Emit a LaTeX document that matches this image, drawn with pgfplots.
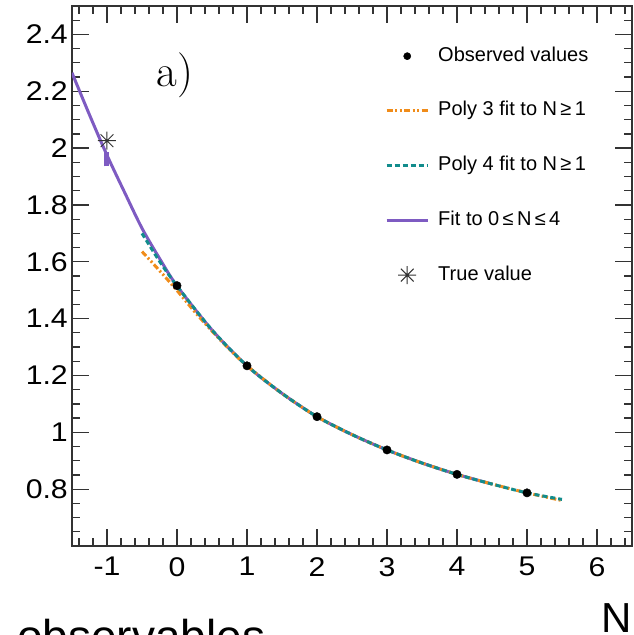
\documentclass[border=0pt]{standalone}
\usepackage{fontspec}
\usepackage{pgfplots}
\pgfplotsset{compat=1.18}
\newfontfamily\arial{Liberation Sans}
\newfontfamily\tickfont[FakeStretch=1.12]{Liberation Sans}
\definecolor{cpurple}{HTML}{7E5BC2}
\definecolor{corange}{HTML}{F08C1A}
\definecolor{cteal}{HTML}{128C8C}
\definecolor{caxis}{HTML}{333333}
\pgfdeclareplotmark{rootstar}{%
  \pgfpathmoveto{\pgfqpoint{0pt}{\pgfplotmarksize}}\pgfpathlineto{\pgfqpoint{0pt}{-\pgfplotmarksize}}%
  \pgfpathmoveto{\pgfqpoint{\pgfplotmarksize}{0pt}}\pgfpathlineto{\pgfqpoint{-\pgfplotmarksize}{0pt}}%
  \pgfpathmoveto{\pgfqpoint{0.707\pgfplotmarksize}{0.707\pgfplotmarksize}}\pgfpathlineto{\pgfqpoint{-0.707\pgfplotmarksize}{-0.707\pgfplotmarksize}}%
  \pgfpathmoveto{\pgfqpoint{-0.707\pgfplotmarksize}{0.707\pgfplotmarksize}}\pgfpathlineto{\pgfqpoint{0.707\pgfplotmarksize}{-0.707\pgfplotmarksize}}%
  \pgfusepathqstroke}
\begin{document}
\begin{tikzpicture}
\begin{axis}[
  name=main,
  scale only axis, width=560pt, height=540pt,
  xmin=-1.5, xmax=6.5, ymin=0.6, ymax=2.5,
  xtick={-1,0,1,2,3,4,5,6},
  xticklabels={{-1},0,1,2,3,4,5,6},
  ytick={0.8,1,1.2,1.4,1.6,1.8,2,2.2,2.4},
  yticklabels={0.8,1,1.2,1.4,1.6,1.8,2,2.2,2.4},
  minor xtick={-1.4,-1.2,-0.8,-0.6,-0.4,-0.2,0.2,0.4,0.6,0.8,1.2,1.4,1.6,1.8,2.2,2.4,2.6,2.8,3.2,3.4,3.6,3.8,4.2,4.4,4.6,4.8,5.2,5.4,5.6,5.8,6.2,6.4},
  minor ytick={0.65,0.7,0.75,0.85,0.9,0.95,1.05,1.1,1.15,1.25,1.3,1.35,1.45,1.5,1.55,1.65,1.7,1.75,1.85,1.9,1.95,2.05,2.1,2.15,2.25,2.3,2.35,2.45},
  tick align=inside, tick pos=both,
  major tick length=17pt, minor tick length=8.5pt,
  axis line style={draw=caxis, line width=1.3pt},
  every tick/.append style={caxis, line width=1.3pt},
  every minor tick/.append style={caxis, line width=1.3pt},
  ticklabel style={font=\tickfont\fontsize{27}{30}\selectfont, inner sep=0pt},
  xticklabel style={yshift=-11pt},
  yticklabel style={xshift=-4pt},
  legend style={at={(0.559,0.926)}, anchor=north west, draw=none, fill=none, inner sep=0pt,
    font=\arial\fontsize{20}{24}\selectfont, row sep=34.75pt,
    nodes={inner sep=0pt, text height=15pt, text depth=5pt},
    /tikz/every odd column/.append style={column sep=9pt}},
  legend cell align=left,
  legend image code/.code={\draw[mark repeat=2,mark phase=2,#1] plot coordinates {(0pt,0pt)(20.5pt,0pt)(41pt,0pt)};},
]
\addlegendimage{only marks, mark=*, mark size=3.6pt, black}
\addlegendentry{Observed values}
\addlegendimage{corange, line width=3pt, dash pattern=on 6pt off 2.5pt on 2pt off 2.5pt on 2pt off 2.5pt}
\addlegendentry{Poly 3 fit to N\,≥\,1}
\addlegendimage{cteal, line width=3pt, dash pattern=on 5pt off 3pt}
\addlegendentry{Poly 4 fit to N\,≥\,1}
\addlegendimage{cpurple, line width=3pt}
\addlegendentry{Fit to 0\,≤\,N\,≤\,4}
\addlegendimage{only marks, mark=rootstar, mark size=9pt, caxis, mark options={line width=1pt}}
\addlegendentry{True value}

% Fit to 0 <= N <= 4
\addplot[cpurple, line width=3pt, smooth, forget plot] coordinates {
(-1.5,2.265)(-1.25,2.117)(-1,1.975)(-0.75,1.845)(-0.5,1.718)(-0.25,1.612)(0,1.515)
(0.5,1.360)(1,1.234)(1.5,1.137)(2,1.055)(2.5,0.992)(3,0.938)(3.5,0.892)(4,0.852)(4.5,0.818)};
\addplot[cpurple, line width=5pt, forget plot] coordinates {(-1,1.936)(-1,1.986)};
% Poly 3
\addplot[corange, line width=3pt, smooth, dash pattern=on 6pt off 2.5pt on 2pt off 2.5pt on 2pt off 2.5pt, forget plot] coordinates {
(-0.5,1.636)(-0.25,1.569)(0,1.499)(0.25,1.425)(0.5,1.356)(0.75,1.292)(1,1.234)(1.5,1.137)(2,1.055)(2.5,0.992)(3,0.938)(3.5,0.892)(4,0.852)(4.5,0.818)(5,0.787)(5.5,0.760)};
% Poly 4
\addplot[cteal, line width=3pt, smooth, dash pattern=on 5pt off 3pt, forget plot] coordinates {
(-0.5,1.700)(-0.25,1.602)(0,1.515)(0.5,1.360)(1,1.234)(1.5,1.137)(2,1.055)(2.5,0.992)(3,0.938)(3.5,0.892)(4,0.852)(4.5,0.818)(5,0.787)(5.5,0.764)};
% observed
\addplot[only marks, mark=*, mark size=4.2pt, black, forget plot] coordinates {
(0,1.516)(1,1.234)(2,1.055)(3,0.938)(4,0.852)(5,0.787)};
% true value
\addplot[only marks, mark=rootstar, mark size=9pt, caxis, mark options={line width=1pt}, forget plot] coordinates {(-1,2.026)};
\end{axis}
\node[anchor=base, font=\fontsize{45}{50}\selectfont] at ([shift={(103pt,-81pt)}]main.north west) {a)};
\node[anchor=north east, inner sep=0pt, font=\arial\fontsize{42}{46}\selectfont] at ([shift={(0pt,-57pt)}]main.south east) {N};
\node[anchor=base west, inner sep=0pt, font=\arial\fontsize{46}{50}\selectfont] at ([shift={(-55pt,-106pt)}]main.south west) {observables};
\pgfresetboundingbox
\useasboundingbox ([shift={(-72pt,-89pt)}]main.south west) rectangle ([shift={(2pt,6pt)}]main.north east);
\end{tikzpicture}
\end{document}
